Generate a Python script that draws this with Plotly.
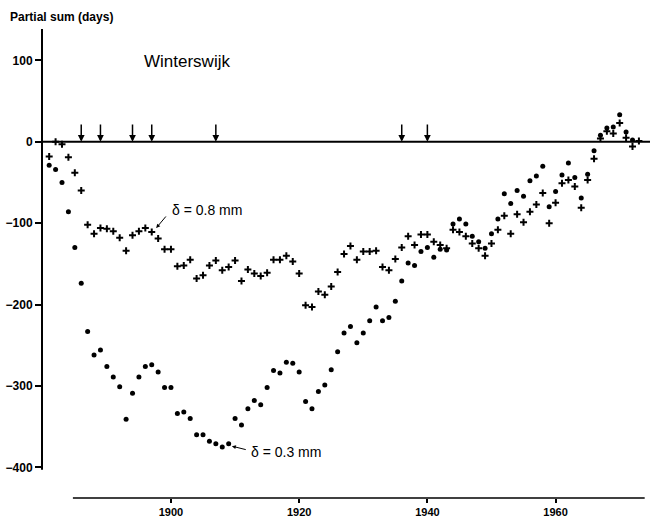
import plotly.graph_objects as go

# Partial sums (days) per year for two thresholds
years_03 = list(range(1881, 1973))
sum_03 = [
    -29, -34, -50, -86, -130, -174, -233, -262, -256, -276,
    -289, -301, -341, -309, -289, -276, -274, -283, -302, -302,
    -334, -332, -340, -360, -360, -368, -371, -375, -371, -340,
    -348, -328, -318, -323, -302, -281, -284, -271, -272, -283,
    -319, -328, -307, -299, -280, -258, -235, -227, -247, -235,
    -220, -203, -220, -216, -196, -171, -149, -152, -135, -130,
    -142, -132, -133, -101, -95, -101, -116, -123, -131, -113,
    -95, -64, -76, -60, -67, -48, -42, -30, -80, -61,
    -41, -26, -44, -69, -40, -11, 8, 17, 18, 33,
    12, 2,
]

years_08 = list(range(1881, 1974))
sum_08 = [
    -18, 0, -3, -19, -38, -60, -102, -113, -106, -107,
    -110, -118, -134, -115, -110, -106, -111, -119, -132, -132,
    -153, -152, -145, -168, -164, -152, -146, -158, -154, -146,
    -171, -157, -162, -165, -161, -145, -145, -140, -147, -162,
    -201, -203, -184, -188, -178, -160, -138, -128, -145, -135,
    -135, -134, -154, -158, -144, -130, -116, -127, -114, -114,
    -123, -127, -131, -108, -111, -116, -125, -131, -140, -125,
    -108, -91, -113, -89, -99, -86, -77, -63, -100, -75,
    -51, -47, -55, -81, -47, -21, 4, 13, 10, 23,
    5, -6, 1,
]

# Years marked with arrows on the zero line
arrow_years = [1886, 1889, 1894, 1897, 1907, 1936, 1940]

x_ticks = [1900, 1920, 1940, 1960]
y_ticks = [100, 0, -100, -200, -300, -400]

FONT = "Liberation Sans, Arial, sans-serif"

fig = go.Figure()

fig.add_trace(go.Scatter(
    x=years_03, y=sum_03, mode="markers", name="δ = 0.3 mm",
    marker=dict(symbol="circle", size=5, color="black"),
))
fig.add_trace(go.Scatter(
    x=years_08, y=sum_08, mode="markers", name="δ = 0.8 mm",
    marker=dict(symbol="cross-thin", size=5, color="black",
                line=dict(color="black", width=2)),
))

shapes = [
    # vertical axis line
    dict(type="line", xref="paper", yref="y", x0=0, x1=0, y0=-403, y1=138.5,
         line=dict(color="black", width=2)),
    # zero line
    dict(type="line", xref="paper", yref="y", x0=0, x1=1, y0=0, y1=0,
         line=dict(color="black", width=2)),
    # time axis line
    dict(type="line", xref="x", yref="paper", x0=1884.7, x1=1973.9, y0=0, y1=0,
         line=dict(color="black", width=1.5)),
]

annotations = [
    dict(text="<b>Partial sum (days)</b>", xref="paper", yref="paper",
         x=-0.056, y=1.0256, xanchor="left", yanchor="middle", showarrow=False,
         font=dict(family=FONT, size=12, color="black")),
    dict(text="Winterswijk", xref="x", yref="y", x=1902.5, y=99,
         xanchor="center", yanchor="middle", showarrow=False,
         font=dict(family=FONT, size=17, color="black")),
    dict(text="δ = 0.8 mm", xref="x", yref="y", x=1899.85, y=-84,
         xanchor="left", yanchor="middle", showarrow=False,
         font=dict(family=FONT, size=14, color="black")),
    dict(text="", xref="x", yref="y", x=1897.7, y=-106,
         axref="x", ayref="y", ax=1899.4, ay=-90, showarrow=True,
         arrowhead=2, arrowsize=0.8, arrowwidth=1, arrowcolor="black", standoff=0),
    dict(text="δ = 0.3 mm", xref="x", yref="y", x=1912.2, y=-381,
         xanchor="left", yanchor="middle", showarrow=False,
         font=dict(family=FONT, size=14, color="black")),
    dict(text="", xref="x", yref="y", x=1909.5, y=-374,
         axref="x", ayref="y", ax=1911.9, ay=-378.7, showarrow=True,
         arrowhead=2, arrowsize=0.8, arrowwidth=1, arrowcolor="black", standoff=0),
]

for yr in arrow_years:
    annotations.append(dict(
        text="", xref="x", yref="y", x=yr, y=0, axref="x", ayref="y",
        ax=yr, ay=23, showarrow=True, arrowhead=2, arrowsize=0.9,
        arrowwidth=1.5, arrowcolor="black", standoff=0,
    ))

fig.update_layout(
    width=651, height=519,
    margin=dict(l=42, r=1, t=29, b=21),
    paper_bgcolor="white", plot_bgcolor="white",
    showlegend=False,
    shapes=shapes,
    annotations=annotations,
    xaxis=dict(
        range=[1879.88, 1974.73], tickvals=x_ticks,
        ticks="outside", ticklen=4, tickwidth=1.5, tickcolor="black",
        showline=False, showgrid=False, zeroline=False, automargin=False,
        tickfont=dict(family=FONT, size=11, color="black", weight="bold"),
    ),
    yaxis=dict(
        range=[-437.7, 138.5], tickvals=y_ticks,
        ticks="outside", ticklen=6, tickwidth=1.5, tickcolor="black",
        showline=False, showgrid=False, zeroline=False, automargin=False,
        tickfont=dict(family=FONT, size=12, color="black", weight="bold"),
    ),
)

fig.write_html("out.html")
